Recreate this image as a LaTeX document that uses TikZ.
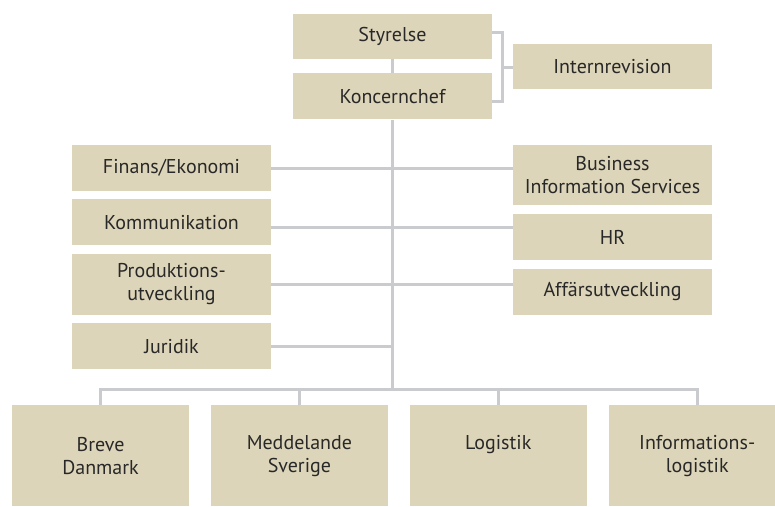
\documentclass[tikz,border=0pt]{standalone}
\usepackage{fontspec}
\setmainfont{PT Sans}
\usetikzlibrary{positioning}
\definecolor{sand}{RGB}{221,213,185}
\definecolor{wiregray}{RGB}{201,203,206}
\definecolor{ink}{RGB}{40,40,40}
\tikzstyle{unit}=[fill=sand,text=ink,align=center,inner sep=0pt,minimum width=199pt,minimum height=46pt,font=\fontsize{20}{23}\selectfont]
\tikzstyle{region}=[unit,minimum width=177pt,minimum height=101pt,anchor=north]
\tikzstyle{wire}=[draw=wiregray,line width=3pt]

\begin{document}
\begin{tikzpicture}[x=1pt,y=-1pt,node distance=8pt]
	\useasboundingbox[fill=white] (0,0) rectangle (775,506);
	\node[unit,minimum height=45pt] (styrelse) at (392.5,36.5) {Styrelse};
	\node[unit] (koncernchef) [below=14pt of styrelse] {Koncernchef};
	\node[unit,minimum height=45pt] (internrevision) at (612.5,66.5) {Internrevision};

	\node[unit] (finans) at (171.5,168) {Finans/Ekonomi};
	\node[unit] (kommunikation) [below=of finans] {Kommunikation};
	\node[unit,minimum height=61pt] (produktion) [below=of kommunikation] {Produktions-\\utveckling};
	\node[unit] (juridik) [below=of produktion] {Juridik};

	\node[unit,minimum height=60pt] (business) at (612.5,175) {Business\\Information Services};
	\node[unit] (hr) [below=9pt of business] {HR};
	\node[unit] (affars) [below=of hr] {Affärsutveckling};

	\node[region] (breve) at (100.5,405) {Breve\\Danmark};
	\node[region] (meddelande) [right=21.5pt of breve] {Meddelande\\Sverige};
	\node[region] (logistik) [right=21.5pt of meddelande] {Logistik\\\phantom{g}};
	\node[region] (informations) [right=21.5pt of logistik] {Informations-\\logistik};

	\coordinate (bracket) at (502,67);
	\coordinate (bus) at (392.5,389);
	\path[wire]
		(styrelse) -- (koncernchef)
		([yshift=4.5pt]styrelse.east) -| (bracket) |- ([yshift=-5.5pt]koncernchef.east)
		(bracket) -- (bracket -| internrevision.west)
		(koncernchef) -- (bus)
		(finans) -- (finans -| business.west)
		([yshift=-5pt]kommunikation.east) -- ([yshift=10pt]hr.west)
		(produktion) -- (produktion -| affars.west)
		(juridik) -- (juridik -| bus)
		(breve.north) |- (bus) -| (informations.north)
		(meddelande) -- (meddelande |- bus)
		(logistik) -- (logistik |- bus);
\end{tikzpicture}
\end{document}
